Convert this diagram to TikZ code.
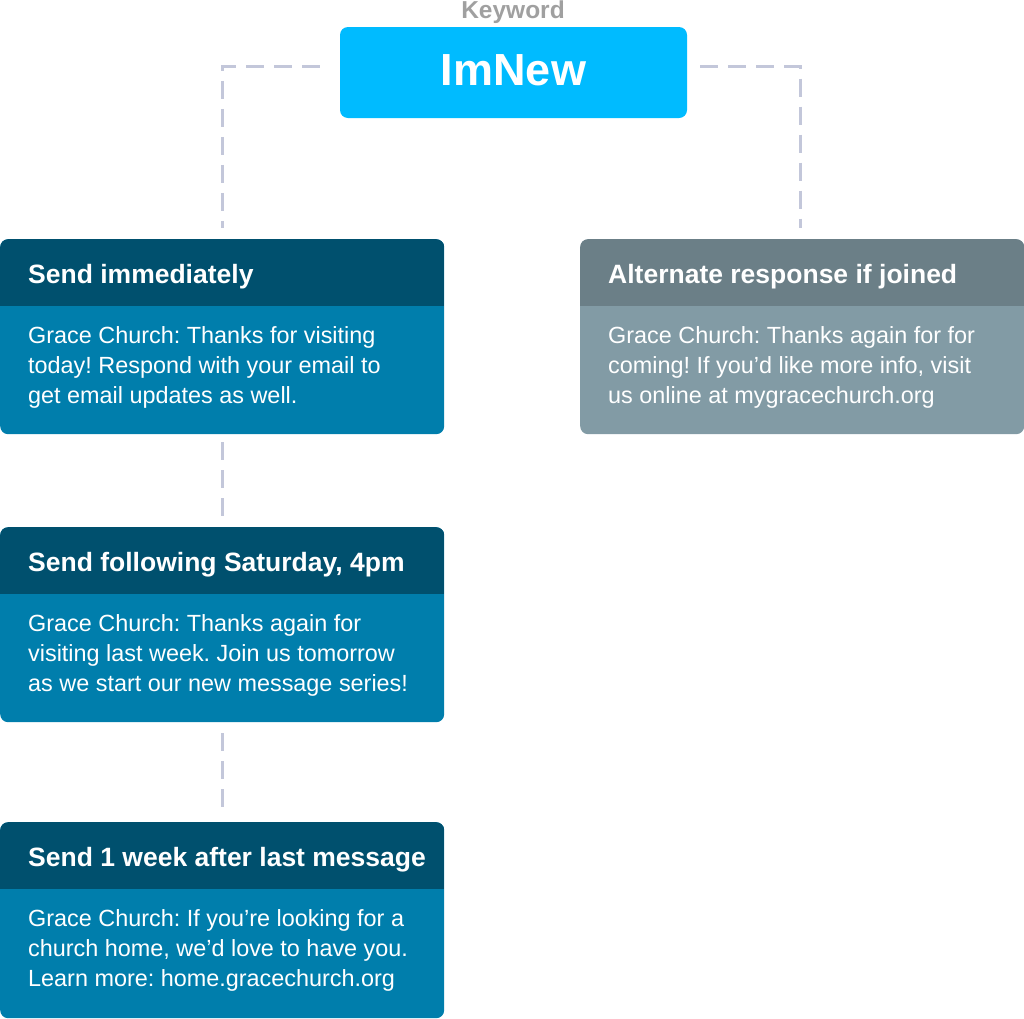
\documentclass[tikz,border=0pt]{standalone}
\usepackage{fontspec}
\setmainfont{Liberation Sans}
\usetikzlibrary{positioning, calc}

\definecolor{keyblue}{RGB}{0,187,255}
\definecolor{keygray}{RGB}{160,160,160}
\definecolor{headdark}{RGB}{0,80,110}
\definecolor{bodyblue}{RGB}{0,126,172}
\definecolor{headgray}{RGB}{107,127,135}
\definecolor{bodygray}{RGB}{130,155,165}
\definecolor{linkgray}{RGB}{195,199,218}

\begin{document}
\begin{tikzpicture}[
    x=1pt, y=-1pt,
    keyword/.style={text=keygray, font=\bfseries\fontsize{24.5}{24.5}\selectfont, anchor=base, inner sep=0pt},
    keybox/.style={fill=keyblue, rounded corners=8pt, minimum width=347pt, minimum height=91pt, text=white, font=\bfseries\fontsize{45}{45}\selectfont, text height=33pt, text depth=8pt},
    card/.style 2 args={fill=#1, rounded corners=8pt, minimum width=444pt, minimum height=195pt, inner sep=0pt, anchor=north west,
        path picture={\fill[#2, sharp corners] (path picture bounding box.north west) rectangle ([yshift=-67pt]path picture bounding box.north east);}},
    title/.style={anchor=base west, text=white, font=\bfseries\fontsize{26.5}{26.5}\selectfont, inner sep=0pt},
    message/.style={anchor=base west, text=white, align=left, font=\frenchspacing\fontsize{23.4}{30}\selectfont, inner sep=0pt},
    link/.style={draw=linkgray, line width=3pt, dash pattern=on 18pt off 10pt}
]
    \useasboundingbox (0,0) rectangle (1024,1018);

    % ================= KEYWORD =================
    \node[keyword] (kwlabel) at (513, 18) {Keyword};
    \node[keybox] (kw) at (513.5, 72.5) {ImNew};

    % ================= MESSAGE CARDS =================
    \node[card={bodyblue}{headdark}] (c1) at (0, 239) {};
    \node[card={bodygray}{headgray}] (c2) at (580, 239) {};
    \node[card={bodyblue}{headdark}] (c3) at (0, 527) {};
    \node[card={bodyblue}{headdark}, minimum height=196pt] (c4) at (0, 822) {};

    % base of a message node sits on its last line
    \node[title] (t1) at ($(c1.north west)+(28,44)$) {Send immediately};
    \node[message] (m1) at ($(c1.north west)+(28,164)$) {Grace Church: Thanks for visiting\\today! Respond with your email to\\get email updates as well.};

    \node[title] (t2) at ($(c2.north west)+(28,44)$) {Alternate response if joined};
    \node[message] (m2) at ($(c2.north west)+(28,164)$) {Grace Church: Thanks again for for\\coming! If you’d like more info, visit\\us online at mygracechurch.org};

    \node[title] (t3) at ($(c3.north west)+(28,44)$) {Send following Saturday, 4pm};
    \node[message] (m3) at ($(c3.north west)+(28,164)$) {Grace Church: Thanks again for\\visiting last week. Join us tomorrow\\as we start our new message series!};

    \node[title] (t4) at ($(c4.north west)+(28,44)$) {Send 1 week after last message};
    \node[message] (m4) at ($(c4.north west)+(28,164)$) {Grace Church: If you’re looking for a\\church home, we’d love to have you.\\Learn more: home.gracechurch.org};

    % ================= DASHED LINKS =================
    \draw[link, shorten <=20pt, shorten >=11pt] ([yshift=6pt]kw.west) -| (c1.north);
    \draw[link, shorten <=13pt, shorten >=11pt] ([yshift=6pt]kw.east) -| ([xshift=-2pt]c2.north);
    \draw[link, shorten <=8pt, shorten >=9pt] (c1.south) -- (c3.north);
    \draw[link, shorten <=11pt, shorten >=12pt] (c3.south) -- (c4.north);

\end{tikzpicture}
\end{document}
